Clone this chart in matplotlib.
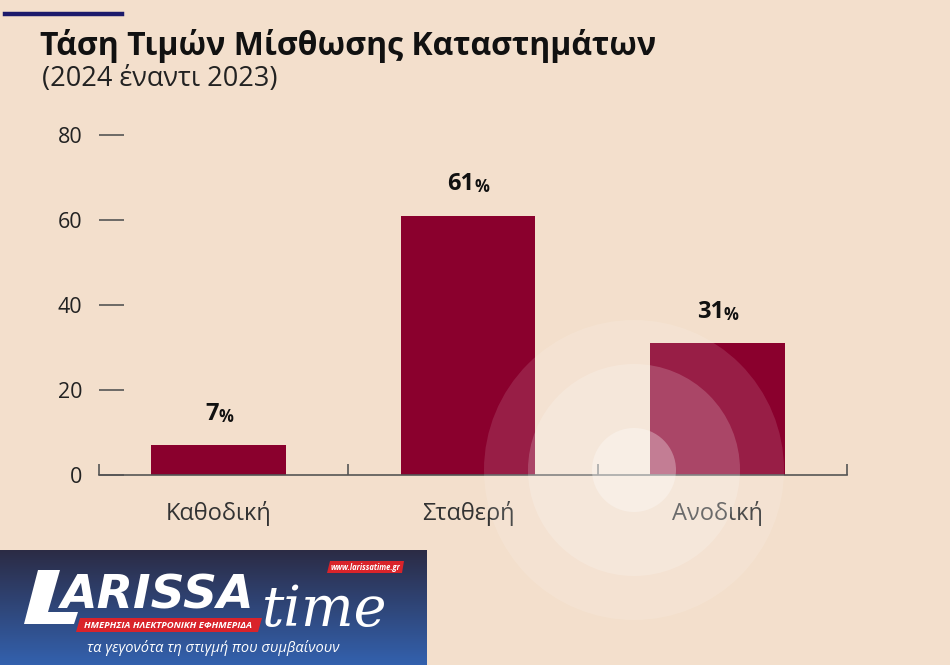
import matplotlib.pyplot as plt
import matplotlib.patches as mpatches
import numpy as np

categories = ['Καθοδική', 'Σταθερή', 'Ανοδική']
values = [7, 61, 31]
yticks = [0, 20, 40, 60, 80]

title = 'Τάση Τιμών Μίσθωσης Καταστημάτων'
subtitle = '(2024 έναντι 2023)'

bg = '#f3dfcc'
bar_col = '#8a002d'
W, H = 950, 665

plt.rcParams['font.family'] = ['Open Sans', 'DejaVu Sans']

fig = plt.figure(figsize=(W / 100, H / 100), dpi=100, facecolor=bg)


def fx(x):
    return x / W


def fy(y):
    return 1 - y / H


# top accent line
fig.add_artist(plt.Line2D([fx(5), fx(122)], [fy(14), fy(14)], color='#1c1a6b', lw=3.2))

fig.text(fx(40), fy(46), title, fontsize=23, fontweight='bold', color='#111111', va='center')
fig.text(fx(42), fy(79), subtitle, fontsize=19.5, color='#222222', va='center')

ax = fig.add_axes([fx(99), 190 / H, 748 / W, 340 / H])
ax.set_facecolor('none')
x = np.arange(len(categories))
ax.bar(x, values, width=0.54, color=bar_col, zorder=2)
ax.set_xlim(-0.48, 2.52)
ax.set_ylim(0, 80)

for s in ['top', 'right', 'left']:
    ax.spines[s].set_visible(False)
ax.spines['bottom'].set_color('#555555')
ax.spines['bottom'].set_linewidth(1.2)

ax.set_yticks(yticks)
ax.set_yticklabels([str(v) for v in yticks])
ax.tick_params(axis='y', direction='in', length=18, width=1.2, color='#555555',
               labelsize=15.5, labelcolor='#222222', pad=12)
ax.set_xticks(x)
ax.set_xticklabels(categories)
ax.tick_params(axis='x', length=0, labelsize=17, labelcolor='#333333', pad=19)
ax.set_xticks([-0.48, 0.52, 1.52, 2.52], minor=True)
ax.tick_params(axis='x', which='minor', direction='in', length=8, width=1.2, color='#555555')

for xi, v in zip(x, values):
    t = ax.annotate(str(v), (xi, v), xytext=(-5, 14), textcoords='offset points',
                    ha='center', va='bottom', fontsize=17, fontweight='bold', color='#111111')
    ax.annotate('%', xy=(1, 0), xycoords=t, xytext=(0, 0), textcoords='offset points',
                ha='left', va='bottom', fontsize=12, fontweight='bold', color='#111111')

# decorative circles
for r, a in [(150, 0.12), (106, 0.18), (42, 0.3)]:
    circ = mpatches.Ellipse((fx(634), fy(470)), 2 * r / W, 2 * r / H, transform=fig.transFigure,
                            facecolor='white', edgecolor='none', alpha=a, zorder=5)
    fig.add_artist(circ)

# logo block
lax = fig.add_axes([0, 0, 427 / W, 115 / H])
grad = np.linspace(0, 1, 100)[:, None]
top = np.array([0.17, 0.17, 0.27])
bot = np.array([0.20, 0.38, 0.68])
img = top + (bot - top) * grad[:, :, None]
lax.imshow(img, aspect='auto', extent=[0, 427, 115, 0])
lax.set_xlim(0, 427)
lax.set_ylim(115, 0)
lax.axis('off')

lax.add_patch(mpatches.Polygon([[38, 20], [60, 20], [48, 62], [78, 62], [74, 74], [24, 74]],
                               closed=True, facecolor='white', edgecolor='none'))
lax.text(60, 46, 'ARISSA', fontsize=34, fontweight='bold', style='italic', color='white',
         va='center', ha='left', family='DejaVu Sans')
lax.add_patch(mpatches.Polygon([[80, 68], [262, 68], [258, 82], [76, 82]],
                               closed=True, facecolor='#d9232a', edgecolor='none'))
lax.text(168, 75, 'ΗΜΕΡΗΣΙΑ ΗΛΕΚΤΡΟΝΙΚΗ ΕΦΗΜΕΡΙΔΑ', fontsize=6.8, fontweight='bold',
         style='italic', color='white', ha='center', va='center')
lax.text(262, 76, 'time', fontsize=40, style='italic', color='white', family='DejaVu Serif',
         ha='left', va='baseline')
lax.add_patch(mpatches.Polygon([[330, 11], [404, 11], [402, 23], [327, 23]],
                               closed=True, facecolor='#d9232a', edgecolor='none'))
lax.text(365, 17, 'www.larissatime.gr', fontsize=5.5, fontweight='bold', style='italic',
         color='white', ha='center', va='center')
lax.text(213, 98, 'τα γεγονότα τη στιγμή που συμβαίνουν', fontsize=10.5, style='italic',
         color='white', ha='center', va='center')

fig.savefig('out.png', dpi=100, facecolor=bg)
